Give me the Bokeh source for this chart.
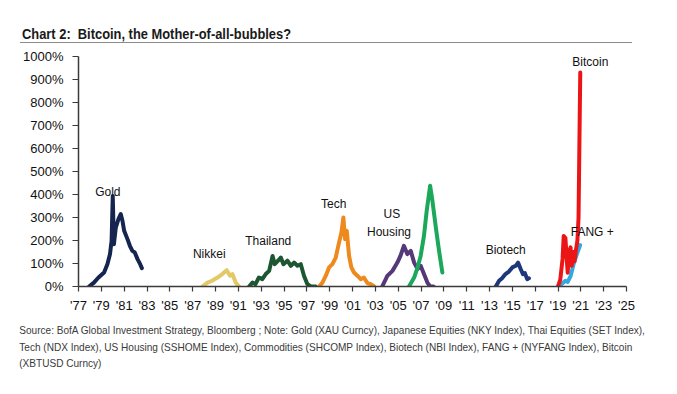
from bokeh.plotting import figure
from bokeh.models import Range1d, FixedTicker, Label, Div
from bokeh.layouts import column
from bokeh.embed import file_html
from bokeh.resources import INLINE

# ---------------- data ----------------
gold_x = [77.93, 78.35, 78.75, 79.24, 79.53, 79.76, 79.9, 80.0, 80.1, 80.27, 80.5, 80.7, 80.85, 81.0, 81.29, 81.5, 81.72, 81.93, 82.17, 82.4, 82.55]
gold_y = [0, 17, 39, 61, 97, 141, 199, 394, 184, 257, 293, 315, 286, 242, 206, 177, 155, 148, 119, 97, 80]

nikkei_x = [87.86, 88.3, 88.7, 89.17, 89.6, 89.98, 90.27, 90.48, 90.77, 91.06]
nikkei_y = [0, 17, 25, 39, 54, 71, 47, 54, 17, 0]

thai_x = [91.94, 92.24, 92.5, 92.8, 93.1, 93.4, 93.7, 94.0, 94.19, 94.48, 94.72, 94.95, 95.3, 95.6, 95.88, 96.18, 96.47, 96.75, 97.05, 97.34, 97.78]
thai_y = [0, 17, 10, 39, 32, 54, 68, 133, 97, 112, 126, 97, 112, 90, 104, 90, 97, 47, 10, 0, 0]

tech_x = [98.07, 98.37, 98.66, 98.95, 99.24, 99.53, 99.82, 100.03, 100.2, 100.35, 100.5, 100.7, 100.9, 101.13, 101.43, 101.72, 102.0, 102.3, 102.6, 102.9]
tech_y = [0, 17, 47, 83, 97, 126, 191, 235, 300, 206, 242, 133, 83, 61, 47, 32, 39, 15, 10, 0]

housing_x = [103.6, 104.05, 104.5, 104.93, 105.2, 105.5, 105.8, 106.1, 106.4, 106.7, 106.97, 107.26, 107.56, 107.8, 108.1]
housing_y = [0, 46, 68, 104, 133, 177, 141, 155, 104, 76, 90, 54, 17, 0, 0]

commod_x = [105.95, 106.4, 106.7, 106.97, 107.26, 107.5, 107.8, 108.0, 108.3, 108.58, 108.87]
commod_y = [0, 39, 83, 133, 220, 329, 438, 373, 257, 155, 61]

biotech_x = [113.55, 113.84, 114.1, 114.4, 114.7, 115.0, 115.3, 115.5, 115.73, 115.93, 116.1, 116.3, 116.45]
biotech_y = [0, 25, 36, 54, 65, 83, 90, 104, 76, 54, 58, 32, 36]

fang_x = [119.3, 119.65, 119.85, 120.1, 120.38, 120.65, 120.94]
fang_y = [10, 25, 20, 45, 100, 140, 180]

btc_x = [119.0, 119.2, 119.4, 119.5, 119.65, 119.75, 119.85, 119.95, 120.1, 120.2, 120.35, 120.45, 120.55, 120.7, 120.8, 120.87, 120.95]
btc_y = [0, 30, 120, 220, 210, 130, 60, 150, 170, 90, 150, 110, 150, 200, 300, 600, 930]

x_ticks = list(range(77, 126, 2))
x_tick_labels = ["'%02d" % (t % 100) for t in x_ticks]
y_ticks = list(range(0, 1001, 100))
y_tick_labels = ["%d%%" % t for t in y_ticks]

series_names = ["Gold", "Nikkei", "Thailand", "Tech", "US\nHousing", "Commodities", "Biotech", "FANG +", "Bitcoin"]

title_text = "Chart 2:  Bitcoin, the Mother-of-all-bubbles?"
source_lines = [
    "Source:  BofA Global Investment Strategy, Bloomberg ; Note: Gold (XAU Curncy), Japanese Equities (NKY Index), Thai Equities (SET Index),",
    "Tech (NDX Index), US Housing (SSHOME Index), Commodities (SHCOMP Index), Biotech (NBI Index), FANG + (NYFANG Index), Bitcoin",
    "(XBTUSD Curncy)",
]

FONT = "Liberation Sans"
W = 660

# ---------------- title ----------------
title_div = Div(width=W, height=44, margin=0, text=(
    '<div style="position:relative;width:612px;height:43px;margin-left:20px;'
    'border-bottom:1px solid #8c8c8c;">'
    '<span style="position:absolute;left:2px;top:26px;line-height:16px;'
    "font-family:'Liberation Sans',Arial,sans-serif;font-weight:bold;font-size:14px;"
    'color:#1a1a1a;white-space:nowrap;transform:scaleX(0.92);transform-origin:left center;">'
    + title_text.replace("  ", "&nbsp; ") + '</span></div>'))

# ---------------- figure ----------------
p = figure(width=W, height=278, output_backend="svg", toolbar_location=None,
           x_range=Range1d(77, 125), y_range=Range1d(0, 1000),
           min_border_left=78, min_border_right=34, min_border_top=12, min_border_bottom=36,
           margin=0)
p.title = None
p.outline_line_color = None
p.grid.visible = False
p.background_fill_color = "white"
p.border_fill_color = "white"

for ax in (p.xaxis[0], p.yaxis[0]):
    ax.axis_line_color = "#3a3a3a"
    ax.axis_line_width = 1.5
    ax.major_tick_line_color = "#3a3a3a"
    ax.major_tick_line_width = 1.2
    ax.major_tick_in = 0
    ax.minor_tick_line_color = None
    ax.major_label_text_font = FONT
    ax.major_label_text_color = "#111111"

p.xaxis[0].ticker = FixedTicker(ticks=x_ticks)
p.xaxis[0].major_label_overrides = dict(zip(x_ticks, x_tick_labels))
p.xaxis[0].major_tick_out = 5
p.xaxis[0].major_label_standoff = 6
p.xaxis[0].major_label_text_font_size = "13px"

p.yaxis[0].ticker = FixedTicker(ticks=y_ticks)
p.yaxis[0].major_label_overrides = dict(zip(y_ticks, y_tick_labels))
p.yaxis[0].major_tick_out = 6
p.yaxis[0].major_label_standoff = 9
p.yaxis[0].major_label_text_font_size = "13px"

series = [
    (gold_x, gold_y, "#15254f"),
    (nikkei_x, nikkei_y, "#e2c867"),
    (thai_x, thai_y, "#1c5633"),
    (tech_x, tech_y, "#ee8a1d"),
    (housing_x, housing_y, "#553878"),
    (commod_x, commod_y, "#1ba85a"),
    (biotech_x, biotech_y, "#1d377a"),
    (fang_x, fang_y, "#33a8df"),
    (btc_x, btc_y, "#ec1515"),
]
for xs, ys, c in series:
    p.line(xs, ys, line_color=c, line_width=4, line_join="round", line_cap="round")

# series labels (data position of label centre)
label_pos = [(79.57, 409), (88.45, 142), (93.62, 199), (99.36, 360), (104.2, 280),
             None, (114.42, 160), (122.0, 238), (121.83, 974)]
for name, pos in zip(series_names, label_pos):
    if pos is None:
        continue
    lines = name.split("\n")
    offs = [0] if len(lines) == 1 else [36, -41]
    dx = [0] if len(lines) == 1 else [0.25, 0]
    for t, oy, ox in zip(lines, offs, dx):
        p.add_layout(Label(x=pos[0] + ox, y=pos[1] + oy, text=t, text_align="center",
                           text_baseline="middle", text_font=FONT,
                           text_font_size="12px", text_color="#111111"))

# ---------------- source ----------------
source_div = Div(width=W, height=60, margin=0, text=(
    '<div style="padding-left:22px;padding-top:0px;'
    "font-family:'Liberation Sans',Arial,sans-serif;font-size:11.5px;line-height:16.5px;"
    'color:#3a3a3a;white-space:nowrap;transform:scaleX(0.875);transform-origin:left top;">'
    + "<br>".join(source_lines) + '</div>'))

layout = column(title_div, p, source_div, spacing=0, margin=0)
open("out.html", "w").write(file_html(layout, INLINE))
